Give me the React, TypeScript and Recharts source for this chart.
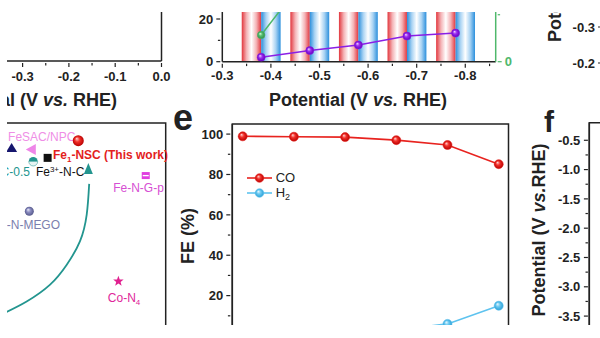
import React from 'react';
import {
  LineChart,
  ComposedChart,
  Line,
  Scatter,
  XAxis,
  YAxis,
  ReferenceArea,
  Legend
} from 'recharts';

const FONT = '"Liberation Sans", Arial, Helvetica, sans-serif';
const INK = '#222222';
const RED = '#e8231f';
const BLUE = '#5ec3ef';
const PURPLE = '#8a1fe6';
const GREEN = '#4fb86b';
const TEAL = '#23958f';

// ---- panel e : Faradaic efficiency ----
const fePotentials = [-0.38, -0.48, -0.58, -0.68, -0.78, -0.88];
const feCO = [98.9, 98.7, 98.5, 97.0, 94.6, 85.1];
const feH2 = [1.2, 1.4, 1.6, 3.0, 6.0, 15.0];
const feYTicks = [0, 10, 20, 30, 40, 50, 60, 70, 80, 90, 100];
const feYLabels = [20, 40, 60, 80, 100];

// ---- top middle panel (striped) ----
const stripPotentials = [-0.38, -0.48, -0.58, -0.68, -0.78];
const stripPurple = [2.1, 5.2, 7.8, 12.0, 13.4];
const stripGreen = [12.5, 42, 61, 73, 81];
const stripXTicks = [-0.3, -0.35, -0.4, -0.45, -0.5, -0.55, -0.6, -0.65, -0.7, -0.75, -0.8, -0.85];
const stripXLabels = [-0.3, -0.4, -0.5, -0.6, -0.7, -0.8];
const stripYTicks = [0, 10, 20];
const stripYLabels = [0, 20];
const stripGreenTicks = [0, 22];
const stripGreenLabels = [0];

// ---- top left panel ----
const leftXTicks = [-0.5, -0.45, -0.4, -0.35, -0.3, -0.25, -0.2, -0.15, -0.1, -0.05, 0];
const leftXLabels = [-0.5, -0.4, -0.3, -0.2, -0.1, 0];

// ---- bottom left comparison panel ----
const benchmarks = [
  { name: 'navy', x: 25.1, y: 91.0, kind: 'triUp' },
  { name: 'FeSAC/NPC', x: 34.9, y: 90.4, kind: 'triLeft' },
  { name: 'Fe1-NSC', x: 57.5, y: 93.6, kind: 'sphereRed' },
  { name: 'Fe3+-N-C', x: 42.6, y: 87.4, kind: 'square' },
  { name: 'FeNC-0.5', x: 35.6, y: 86.1, kind: 'half' },
  { name: 'Fe-N-G-p', x: 90.3, y: 81.0, kind: 'squarePink' },
  { name: 'Ni-N-MEGO', x: 33.7, y: 68.1, kind: 'sphereGrey' },
  { name: 'Co-N4', x: 77.0, y: 42.8, kind: 'star' }
];
const arrowPath = [
  { x: 22.0, y: 31.5 },
  { x: 32.4, y: 35.5 },
  { x: 43.8, y: 41.6 },
  { x: 51.9, y: 48.8 },
  { x: 58.3, y: 57.2 },
  { x: 61.6, y: 66.9 },
  { x: 62.8, y: 78.0 }
];
const arrowTip = [{ x: 62.4, y: 85.5 }];

// ---- panel f ----
const fTicks = [-0.5, -0.75, -1.0, -1.25, -1.5, -1.75, -2.0, -2.25, -2.5, -2.75, -3.0, -3.25, -3.5, -3.75];
const fLabels = [-0.5, -1.0, -1.5, -2.0, -2.5, -3.0, -3.5];

// ---- top right panel ----
const trTicks = [-0.3, -0.2];

const labelStyle: Record<string, { dx: number; dy: number; anchor: string; color: string; bold?: boolean; parts: [string, string?][] }> = {
  'FeSAC/NPC': { dx: -23.7, dy: -9, anchor: 'start', color: '#ef8ee6', parts: [['FeSAC/NPC']] },
  'Fe1-NSC': { dx: -25.3, dy: 18.3, anchor: 'start', color: '#e3211c', bold: true, parts: [['Fe'], ['1', 'sub'], ['-NSC (This work)']] },
  'Fe3+-N-C': { dx: -11.7, dy: 17.7, anchor: 'start', color: '#111', parts: [['Fe'], ['3+', 'sup'], ['-N-C']] },
  'FeNC-0.5': { dx: -3.3, dy: 14.3, anchor: 'end', color: TEAL, parts: [['FeNC-0.5']] },
  'Fe-N-G-p': { dx: -7.2, dy: 16, anchor: 'middle', color: '#d64fd3', parts: [['Fe-N-G-p']] },
  'Ni-N-MEGO': { dx: 30.7, dy: 17.6, anchor: 'end', color: '#7c7fae', parts: [['Ni-N-MEGO']] },
  'Co-N4': { dx: 5.7, dy: 20.3, anchor: 'middle', color: '#e0269a', parts: [['Co-N'], ['4', 'sub']] }
};

const near = (arr: number[], v: number) => arr.some((a) => Math.abs(a - v) < 1e-6);

const tickText = (color: string) => ({
  fontFamily: FONT,
  fontWeight: 700,
  fontSize: 13,
  fill: color
});

const leftTick = (labels: number[], fmt: (v: number) => string, size = 4, margin = 3, color = INK) => (p: any) => {
  const v = p.payload.value;
  const major = near(labels, v);
  const ax = p.x + size + margin;
  return (
    <g>
      <line x1={ax - (major ? size : size * 0.6)} x2={ax} y1={p.y} y2={p.y} stroke={color} strokeWidth={1.2} />
      {major && (
        <text x={p.x} y={p.y} dy="0.36em" textAnchor="end" {...tickText(color)}>
          {fmt(v)}
        </text>
      )}
    </g>
  );
};

const rightTick = (labels: number[], fmt: (v: number) => string, size = 4, margin = 3, color = INK) => (p: any) => {
  const v = p.payload.value;
  const major = near(labels, v);
  const ax = p.x - size - margin;
  return (
    <g>
      <line x1={ax} x2={ax + (major ? size : size * 0.6)} y1={p.y} y2={p.y} stroke={color} strokeWidth={1.2} />
      {major && (
        <text x={p.x} y={p.y} dy="0.36em" textAnchor="start" {...tickText(color)}>
          {fmt(v)}
        </text>
      )}
    </g>
  );
};

const bottomTick = (labels: number[], fmt: (v: number) => string, size = 4, margin = 3, color = INK) => (p: any) => {
  const v = p.payload.value;
  const major = near(labels, v);
  const ay = p.y - size - margin;
  return (
    <g>
      <line x1={p.x} x2={p.x} y1={ay} y2={ay + (major ? size : size * 0.6)} stroke={color} strokeWidth={1.2} />
      {major && (
        <text x={p.x} y={p.y} dy="0.71em" textAnchor="middle" {...tickText(color)}>
          {fmt(v)}
        </text>
      )}
    </g>
  );
};

const fmt1 = (v: number) => v.toFixed(1);
const fmt0 = (v: number) => String(v);

const axisLine = (color = INK) => ({ stroke: color, strokeWidth: 1.5 });

const sphereOf: Record<string, string> = { [RED]: 'sRed', [BLUE]: 'sBlue', [PURPLE]: 'sPurple', [GREEN]: 'sGreen' };

const sphereDot = (color: string, r: number) => (p: any) => {
  if (p.cx == null || p.cy == null) return <g key={`n${p.index}`} />;
  return (
    <circle key={`d${p.index}`} cx={p.cx} cy={p.cy} r={r} fill={`url(#${sphereOf[color]})`} stroke={color} strokeWidth={0.6} />
  );
};

const FeLegend = (props: any) => (
  <div style={{ fontFamily: FONT, fontSize: 13, color: INK }}>
    {(props.payload || []).map((e: any) => (
      <div key={e.value} style={{ display: 'flex', alignItems: 'center', height: 15.6 }}>
        <svg width={25} height={12}>
          <line x1={0} x2={25} y1={6} y2={6} stroke={e.color} strokeWidth={1.6} />
          <circle cx={12.5} cy={6} r={4.3} fill={`url(#${sphereOf[e.color]})`} stroke={e.color} strokeWidth={0.6} />
        </svg>
        <span style={{ marginLeft: 4, lineHeight: '14px' }}>
          {e.value === 'H2' ? (
            <>
              H<span style={{ fontSize: 9, position: 'relative', top: 3 }}>2</span>
            </>
          ) : (
            e.value
          )}
        </span>
      </div>
    ))}
  </div>
);

const marker = (kind: string, cx: number, cy: number) => {
  switch (kind) {
    case 'triUp':
      return <polygon points={`${cx},${cy - 5} ${cx - 5.5},${cy + 4} ${cx + 5.5},${cy + 4}`} fill="#16166e" />;
    case 'triLeft':
      return <polygon points={`${cx - 6},${cy} ${cx + 4},${cy - 5.5} ${cx + 4},${cy + 5.5}`} fill="#ee86e8" />;
    case 'sphereRed':
      return <circle cx={cx} cy={cy} r={5.5} fill="url(#sRed)" />;
    case 'square':
      return <rect x={cx - 4} y={cy - 4} width={8} height={8} fill="#111" />;
    case 'half':
      return (
        <g>
          <path d={`M${cx - 4.5},${cy} A4.5,4.5 0 0 1 ${cx + 4.5},${cy} Z`} fill={TEAL} />
          <path d={`M${cx - 4.5},${cy} A4.5,4.5 0 0 0 ${cx + 4.5},${cy} Z`} fill="#e6f4f3" stroke={TEAL} strokeWidth={0.5} />
        </g>
      );
    case 'squarePink':
      return (
        <g>
          <rect x={cx - 4} y={cy - 3.5} width={8} height={7} fill="#e03ee0" />
          <rect x={cx - 3} y={cy - 0.6} width={6} height={1.3} fill="#fff" />
        </g>
      );
    case 'sphereGrey':
      return <circle cx={cx} cy={cy} r={4.5} fill="url(#sGrey)" />;
    case 'star': {
      const pts: string[] = [];
      for (let k = 0; k < 10; k++) {
        const rr = k % 2 === 0 ? 5.5 : 2.3;
        const a = -Math.PI / 2 + (k * Math.PI) / 5;
        pts.push(`${cx + rr * Math.cos(a)},${cy + rr * Math.sin(a)}`);
      }
      return <polygon points={pts.join(' ')} fill="#e0208f" />;
    }
    default:
      return null;
  }
};

const BenchShape = (p: any) => {
  const { cx, cy, payload } = p;
  const st = labelStyle[payload.name];
  return (
    <g>
      {marker(payload.kind, cx, cy)}
      {st && (
        <text
          x={cx + st.dx}
          y={cy + st.dy}
          textAnchor={st.anchor}
          fontFamily={FONT}
          fontSize={12}
          fontWeight={st.bold ? 700 : 400}
          fill={st.color}
        >
          {st.parts.map(([t, mode], i) => {
            const prev = i > 0 ? st.parts[i - 1][1] : undefined;
            const back = prev === 'sub' ? -3 : prev === 'sup' ? 4 : 0;
            if (mode === 'sub')
              return (
                <tspan key={i} dy={3 + back} fontSize={8}>
                  {t}
                </tspan>
              );
            if (mode === 'sup')
              return (
                <tspan key={i} dy={-4 + back} fontSize={8}>
                  {t}
                </tspan>
              );
            return (
              <tspan key={i} dy={back}>
                {t}
              </tspan>
            );
          })}
        </text>
      )}
    </g>
  );
};

const ArrowHead = (p: any) => (
  <polygon points={`${p.cx},${p.cy} ${p.cx - 4.5},${p.cy + 11} ${p.cx + 4.5},${p.cy + 11}`} fill={TEAL} />
);

const sphereGrad = (id: string, light: string, mid: string, dark: string) => (
  <radialGradient id={id} cx="50%" cy="50%" r="50%" fx="35%" fy="30%">
    <stop offset="0%" stopColor={light} />
    <stop offset="45%" stopColor={mid} />
    <stop offset="100%" stopColor={dark} />
  </radialGradient>
);

const stripeGrad = (id: string, color: string, pale: string) => (
  <linearGradient id={id} x1="0" y1="0" x2="1" y2="0">
    <stop offset="0%" stopColor={color} />
    <stop offset="25%" stopColor={pale} />
    <stop offset="50%" stopColor="#ffffff" />
    <stop offset="75%" stopColor={pale} />
    <stop offset="100%" stopColor={color} />
  </linearGradient>
);

export default function App() {
  const feData = fePotentials.map((p, i) => ({ p, co: feCO[i], h2: feH2[i] }));
  const stripData = stripPotentials.map((p, i) => ({ p, purple: stripPurple[i], green: stripGreen[i] }));
  // axis-only panels: rows carry just the axis positions, nothing is plotted from them
  const leftAxisRows = leftXTicks.map((p) => ({ p }));
  const fAxisRows = fTicks.map((v) => ({ x: 0.5, v }));
  const trAxisRows = trTicks.map((v) => ({ x: 0.5, v }));
  const feDomain = [-0.8991, -0.3597];
  const stripDomain = [-0.8626, -0.3];

  return (
    <div style={{ position: 'fixed', left: 0, top: 0, width: 600, height: 338, background: '#fff' }}>
      <svg width={0} height={0} style={{ position: 'absolute' }}>
        <defs>
          {sphereGrad('sRed', '#ffd6d4', '#f2302a', '#b80000')}
          {sphereGrad('sBlue', '#eefaff', '#6ccaf2', '#2b9fd6')}
          {sphereGrad('sPurple', '#f0d6ff', '#9a2cf0', '#6400bd')}
          {sphereGrad('sGreen', '#dcffe4', '#55c070', '#2f8a47')}
          {sphereGrad('sGrey', '#eeeefa', '#8c8ec2', '#55588a')}
          {stripeGrad('stripeRed', '#e2363d', '#f4b3b6')}
          {stripeGrad('stripeBlue', '#2b8fdc', '#a9d3f3')}
        </defs>
      </svg>
      <div style={{ position: 'absolute', left: 7, top: 12, width: 593, height: 313, overflow: 'hidden' }}>
        <div style={{ position: 'absolute', left: -7, top: -12, width: 600, height: 338 }}>
          {/* top left panel */}
          <div style={{ position: 'absolute', left: -70.5, top: 0 }}>
            <LineChart width={243.5} height={112} data={leftAxisRows} margin={{ top: 0, right: 0, left: 0, bottom: 0 }}>
              <XAxis
                dataKey="p"
                type="number"
                domain={[-0.5, 0]}
                ticks={leftXTicks}
                interval={0}
                height={51}
                tickLine={false}
                tickMargin={5}
                tick={bottomTick(leftXLabels, fmt1, 4, 5)}
                axisLine={axisLine()}
              />
              <YAxis yAxisId="l" hide domain={[0, 1]} />
              <YAxis yAxisId="r" orientation="right" width={12} domain={[0, 1]} tick={false} tickLine={false} axisLine={axisLine()} />
            </LineChart>
          </div>

          {/* top middle panel */}
          <div style={{ position: 'absolute', left: 180, top: 0 }}>
            <LineChart width={340} height={112} data={stripData} margin={{ top: 0, right: 0, left: 0, bottom: 0 }}>
              <XAxis
                dataKey="p"
                type="number"
                domain={stripDomain}
                reversed
                allowDataOverflow
                ticks={stripXTicks}
                interval={0}
                height={50.3}
                tickLine={false}
                tickMargin={3}
                tick={bottomTick(stripXLabels, fmt1, 4, 3)}
                axisLine={axisLine()}
              />
              <YAxis
                yAxisId="l"
                width={42.3}
                domain={[0, 28.9]}
                allowDataOverflow
                ticks={stripYTicks}
                interval={0}
                tickLine={false}
                tickMargin={3}
                tick={leftTick(stripYLabels, fmt0)}
                axisLine={axisLine()}
              />
              <YAxis
                yAxisId="g"
                orientation="right"
                width={24.3}
                domain={[0, 28.9]}
                allowDataOverflow
                ticks={stripGreenTicks}
                interval={0}
                tickLine={false}
                tickMargin={3}
                tick={rightTick(stripGreenLabels, fmt0, 4, 3, GREEN)}
                axisLine={axisLine(GREEN)}
              />
              {stripPotentials.map((p) => (
                <ReferenceArea key={`r${p}`} yAxisId="l" x1={p + 0.04} x2={p} fill="url(#stripeRed)" fillOpacity={1} stroke="none" />
              ))}
              {stripPotentials.map((p) => (
                <ReferenceArea key={`b${p}`} yAxisId="l" x1={p} x2={p - 0.04} fill="url(#stripeBlue)" fillOpacity={1} stroke="none" />
              ))}
              <Line yAxisId="g" dataKey="green" stroke={GREEN} strokeWidth={1.5} dot={sphereDot(GREEN, 3.8)} isAnimationActive={false} />
              <Line yAxisId="l" dataKey="purple" stroke={PURPLE} strokeWidth={1.5} dot={sphereDot(PURPLE, 4)} isAnimationActive={false} />
            </LineChart>
          </div>

          {/* panel e */}
          <div style={{ position: 'absolute', left: 170, top: 100 }}>
            <LineChart width={350} height={236} data={feData} margin={{ top: 24, right: 11.5, left: 0, bottom: 0 }}>
              <XAxis dataKey="p" type="number" domain={feDomain} reversed hide />
              <YAxis
                width={62.3}
                domain={[0, 105]}
                ticks={feYTicks}
                interval={0}
                tickLine={false}
                tickMargin={3}
                tick={leftTick(feYLabels, fmt0)}
                axisLine={axisLine()}
              />
              <ReferenceArea x1={feDomain[0]} x2={feDomain[1]} y1={0} y2={105} fill="none" stroke={INK} strokeWidth={1.5} ifOverflow="visible" />
              <Legend
                layout="vertical"
                align="center"
                verticalAlign="middle"
                content={<FeLegend />}
                wrapperStyle={{ left: 76.7, top: 69.9, width: 80, height: 32 }}
              />
              <Line dataKey="co" name="CO" stroke={RED} strokeWidth={1.6} dot={sphereDot(RED, 4.5)} isAnimationActive={false} />
              <Line dataKey="h2" name="H2" stroke={BLUE} strokeWidth={1.6} dot={sphereDot(BLUE, 4.5)} isAnimationActive={false} />
            </LineChart>
          </div>

          {/* bottom left comparison panel */}
          <div style={{ position: 'absolute', left: -40, top: 121.3 }}>
            <ComposedChart width={210} height={278.7} margin={{ top: 2, right: 4.3, left: 0, bottom: 0 }}>
              <XAxis dataKey="x" type="number" domain={[0, 100]} hide />
              <YAxis type="number" domain={[0, 100]} hide />
              <ReferenceArea x1={0} x2={100} y1={0} y2={100} fill="none" stroke={INK} strokeWidth={1.5} ifOverflow="visible" />
              <Line data={arrowPath} dataKey="y" type="natural" stroke={TEAL} strokeWidth={1.8} dot={false} isAnimationActive={false} />
              <Scatter data={arrowTip} dataKey="y" shape={ArrowHead} isAnimationActive={false} />
              <Scatter data={benchmarks} dataKey="y" shape={BenchShape} isAnimationActive={false} />
            </ComposedChart>
          </div>

          {/* panel f */}
          <div style={{ position: 'absolute', left: 520, top: 100 }}>
            <LineChart width={200} height={245.4} data={fAxisRows} margin={{ top: 22.7, right: 0, left: 0, bottom: 0 }}>
              <XAxis dataKey="x" type="number" domain={[0, 1]} hide />
              <YAxis
                dataKey="v"
                width={69.3}
                domain={[-4, -0.2]}
                ticks={fTicks}
                interval={0}
                tickLine={false}
                tickMargin={3}
                tick={leftTick(fLabels, fmt1, 4, 3.6)}
                axisLine={axisLine()}
              />
              <ReferenceArea x1={0} x2={1} y1={-4} y2={-0.2} fill="none" stroke={INK} strokeWidth={1.5} ifOverflow="visible" />
            </LineChart>
          </div>

          {/* top right panel */}
          <div style={{ position: 'absolute', left: 520, top: 0 }}>
            <LineChart width={120} height={75} data={trAxisRows} margin={{ top: 0, right: 0, left: 0, bottom: 0 }}>
              <XAxis dataKey="x" type="number" domain={[0, 1]} hide />
              <YAxis
                dataKey="v"
                width={84}
                domain={[-0.375, -0.1667]}
                reversed
                ticks={trTicks}
                interval={0}
                tickLine={false}
                tickMargin={3}
                tick={leftTick(trTicks, fmt1)}
                axisLine={axisLine()}
              />
            </LineChart>
          </div>

          {/* titles and panel letters */}
          <svg width={600} height={338} style={{ position: 'absolute', left: 0, top: 0, pointerEvents: 'none' }} fontFamily={FONT} fill={INK}>
            <text x={358} y={106.4} textAnchor="middle" fontSize={18} fontWeight={700}>
              Potential (V <tspan fontStyle="italic">vs.</tspan> RHE)
            </text>
            <text x={117} y={106.4} textAnchor="end" fontSize={18} fontWeight={700}>
              Potential (V <tspan fontStyle="italic">vs.</tspan> RHE)
            </text>
            <text x={194.4} y={236} transform="rotate(-90 194.4 236)" textAnchor="middle" fontSize={18} fontWeight={700}>
              FE (%)
            </text>
            <text x={173} y={130} fontSize={36} fontWeight={700}>
              e
            </text>
            <text x={544} y={132} fontSize={30} fontWeight={700}>
              f
            </text>
            <text x={545.4} y={230} transform="rotate(-90 545.4 230)" textAnchor="middle" fontSize={18} fontWeight={700}>
              Potential (V <tspan fontStyle="italic">vs.</tspan>RHE)
            </text>
            <text x={561} y={42} transform="rotate(-90 561 42)" textAnchor="start" fontSize={18} fontWeight={700}>
              Potential (V <tspan fontStyle="italic">vs.</tspan> RHE)
            </text>
          </svg>
        </div>
      </div>
    </div>
  );
}
